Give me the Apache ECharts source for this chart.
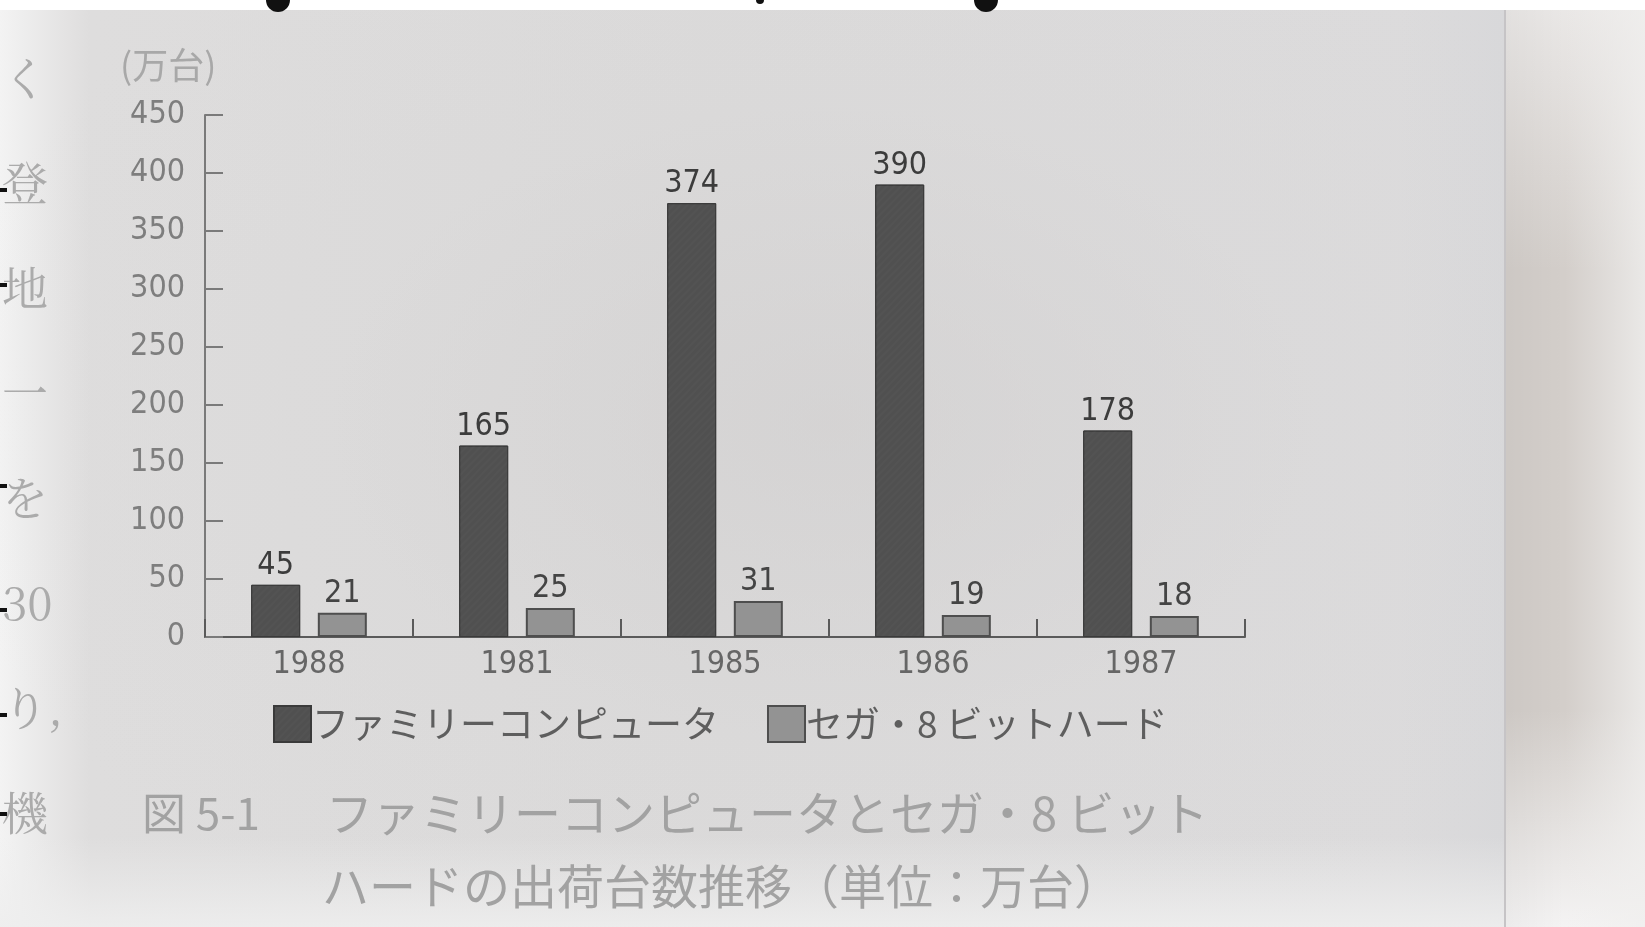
<!DOCTYPE html>
<html>
<head>
<meta charset="utf-8">
<script src="https://cdn.jsdelivr.net/npm/echarts@6/dist/echarts.min.js"></script>
<style>
  html, body { margin: 0; padding: 0; width: 1645px; height: 927px; overflow: hidden; background: #ffffff; }
  #page {
    position: absolute; left: 0; top: 10px; width: 1505px; height: 917px;
    background:
      radial-gradient(ellipse 60% 65% at 55% 45%, rgba(205,203,203,0.45) 0%, rgba(215,214,214,0.2) 55%, rgba(240,240,240,0) 100%),
      linear-gradient(to right, #f3f3f3 0px, #dedddd 90px, #dbdada 700px, #dcdbdc 1400px, #d8d8da 1505px);
  }
  #pagebottom {
    position: absolute; left: 0; top: 837px; width: 1505px; height: 90px;
    background: linear-gradient(to bottom, rgba(240,240,240,0), rgba(238,238,238,0.9));
  }
  #strip {
    position: absolute; left: 1505px; top: 10px; width: 140px; height: 917px;
    background-color: #d3ceca;
  }
  #stripv {
    position: absolute; left: 1505px; top: 10px; width: 140px; height: 917px;
    background: linear-gradient(to bottom, rgba(236,234,233,0.9) 0px, rgba(236,234,233,0) 260px, rgba(236,234,233,0) 700px, rgba(244,243,243,1) 917px);
  }
  #striph {
    position: absolute; left: 1505px; top: 10px; width: 140px; height: 917px;
    background: linear-gradient(to right, rgba(0,0,0,0.03) 0px, rgba(0,0,0,0) 60px, rgba(240,239,238,0.8) 140px);
  }
  #edge { position: absolute; left: 1504px; top: 10px; width: 2px; height: 917px; background: #c6c4c6; }
  #chart { position: absolute; left: 0; top: 0; width: 1645px; height: 927px; }
</style>
</head>
<body>
<div id="page"></div>
<div id="pagebottom"></div>
<div id="strip"></div>
<div id="stripv"></div>
<div id="striph"></div>
<div id="edge"></div>
<div id="chart"></div>
<script>
const categories = ['1988', '1981', '1985', '1986', '1987'];
const famicomValues = [45, 165, 374, 390, 178];
const segaValues = [21, 25, 31, 19, 18];
const seriesNames = ['ファミリーコンピュータ', 'セガ・8 ビットハード'];
const yMax = 450;
const yInterval = 50;
const unitLabel = '(万台)';
const captionFig = '図 5-1';
const captionLine1 = 'ファミリーコンピュータとセガ・8 ビット';
const captionLine2 = 'ハードの出荷台数推移（単位：万台）';
const marginChars = ['く', '登', '地', '一', 'を', '30', 'り,', '機'];

const numFont = '"DejaVu Sans Condensed", "Liberation Sans", Arial, sans-serif';
const jpFont = '"Noto Sans CJK JP", "Noto Sans", sans-serif';

const chart = echarts.init(document.getElementById('chart'), null, { renderer: 'canvas' });

const marginGraphics = marginChars.map((c, i) => ({
  type: 'text', x: 2, y: 78 + i * 105,
  style: { text: c, font: '46px "Noto Serif CJK JP", "Noto Sans CJK JP", serif', fill: '#ababab', verticalAlign: 'middle' },
  silent: true
}));
const blackMarks = [188, 283, 484, 608, 713, 812].map(y => ({
  type: 'rect', shape: { x: 0, y: y, width: 7, height: 4 }, style: { fill: '#111' }, silent: true
}));
const topBlobs = [[278, 12], [986, 12], [760, 4]].map(p => ({
  type: 'circle', shape: { cx: p[0], cy: 0, r: p[1] }, style: { fill: '#111' }, silent: true
}));

chart.setOption({
  backgroundColor: 'transparent',
  animation: false,
  grid: { left: 205, right: 400, top: 115, bottom: 290, containLabel: false },
  legend: {
    data: seriesNames,
    left: 268, top: 700,
    itemWidth: 37, itemHeight: 36, itemGap: 48,
    icon: 'rect',
    textStyle: { fontSize: 37, color: '#5e5e5e', fontFamily: jpFont, padding: [0, 0, 0, -4] }
  },
  xAxis: {
    type: 'category',
    data: categories,
    axisLine: { show: true, lineStyle: { color: '#5a5a5a', width: 2 } },
    axisTick: { show: true, inside: true, length: 18, lineStyle: { color: '#5a5a5a', width: 2 } },
    axisLabel: { fontSize: 32, color: '#666666', fontFamily: numFont, margin: 12 }
  },
  yAxis: {
    type: 'value',
    min: 0, max: yMax, interval: yInterval,
    splitLine: { show: false },
    axisLine: { show: true, lineStyle: { color: '#7a7a7a', width: 2 } },
    axisTick: { show: true, inside: true, length: 18, lineStyle: { color: '#7a7a7a', width: 2 } },
    axisLabel: { fontSize: 32, color: '#7e7e7e', fontFamily: numFont, margin: 20 }
  },
  series: [
    {
      name: seriesNames[0], type: 'bar', data: famicomValues,
      barWidth: 49, barGap: '36%',
      itemStyle: { color: '#505050', borderColor: '#3a3a3a', borderWidth: 1,
        decal: { symbol: 'rect', symbolSize: 1, dashArrayX: [1, 0], dashArrayY: [2, 3], rotation: -0.8, color: 'rgba(90,90,90,0.35)' } },
      label: { show: true, position: 'top', distance: 3, fontSize: 32, color: '#3c3c3c', fontFamily: numFont }
    },
    {
      name: seriesNames[1], type: 'bar', data: segaValues,
      barWidth: 49,
      itemStyle: { color: '#939393', borderColor: '#4e4e4e', borderWidth: 2 },
      label: { show: true, position: 'top', distance: 3, fontSize: 32, color: '#444444', fontFamily: numFont }
    }
  ],
  graphic: [
    { type: 'text', x: 120, y: 65, style: { text: unitLabel, font: '36px ' + jpFont, fill: '#a8a8a8', verticalAlign: 'middle' }, silent: true },
    { type: 'text', x: 142, y: 813, style: { text: captionFig, font: '44px ' + jpFont, fill: '#a2a2a2', verticalAlign: 'middle' }, silent: true },
    { type: 'text', x: 326, y: 813, style: { text: captionLine1, font: '47px ' + jpFont, fill: '#a2a2a2', verticalAlign: 'middle' }, silent: true },
    { type: 'text', x: 322, y: 886, style: { text: captionLine2, font: '47px ' + jpFont, fill: '#a2a2a2', verticalAlign: 'middle' }, silent: true }
  ].concat(marginGraphics, blackMarks, topBlobs)
});
</script>
</body>
</html>
